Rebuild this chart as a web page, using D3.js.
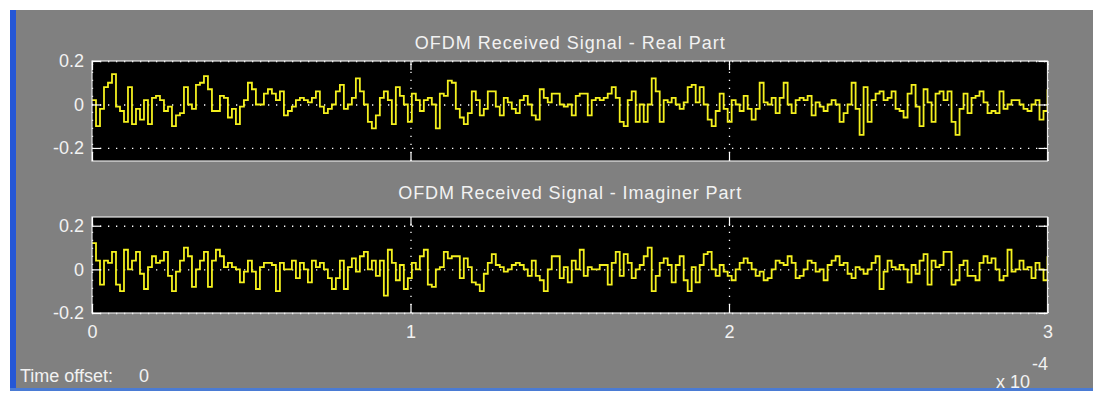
<!DOCTYPE html>
<html>
<head>
<meta charset="utf-8">
<script src="https://cdn.jsdelivr.net/npm/d3@7"></script>
<style>
  html, body { margin: 0; padding: 0; background: #ffffff; }
  svg { display: block; }
  text { font-family: "Liberation Sans", Arial, sans-serif; }
</style>
</head>
<body>
<svg id="scope" width="1093" height="394"></svg>
<script>
// Received OFDM baseband samples (real and imaginary parts), 0 .. 3e-4 s
const realPart = [
  0.02,-0.10,-0.02,0.08,0.10,0.14,-0.01,-0.03,-0.08,0.08,
  -0.09,-0.02,-0.07,0.02,-0.09,0.03,0.04,0.02,-0.03,-0.01,
  -0.10,-0.05,-0.04,0.08,0.00,-0.02,0.09,0.10,0.13,0.07,
  -0.03,-0.03,0.04,0.03,-0.06,-0.02,-0.09,-0.01,0.02,0.10,
  0.07,0.00,0.00,0.05,0.07,0.05,0.02,0.06,-0.05,-0.03,
  -0.01,0.02,0.03,0.02,0.01,0.03,0.06,-0.01,-0.04,-0.02,
  0.00,0.06,0.09,-0.02,0.00,0.03,0.12,0.06,0.00,-0.08,
  -0.11,-0.05,0.03,0.06,0.02,-0.09,0.08,0.04,0.00,-0.08,
  0.05,0.02,-0.03,0.02,0.03,0.00,-0.11,0.05,0.04,0.11,
  0.10,-0.02,-0.06,-0.09,-0.04,0.06,0.02,-0.05,-0.02,0.06,
  0.06,-0.01,-0.05,0.03,0.01,-0.02,-0.04,0.02,0.04,0.00,
  -0.05,-0.07,0.07,0.03,0.01,0.05,0.05,0.00,-0.01,0.00,
  -0.05,0.04,0.05,0.05,-0.05,0.02,0.03,0.02,0.03,0.05,
  0.08,0.03,-0.08,-0.10,0.02,0.06,-0.08,0.00,-0.08,0.00,
  0.12,0.06,-0.08,0.02,0.01,0.03,0.00,-0.02,0.01,0.08,
  0.09,0.01,0.08,0.00,-0.07,-0.10,-0.03,0.05,-0.02,-0.08,
  0.02,0.00,-0.03,0.04,-0.02,-0.07,-0.02,0.10,0.01,0.00,
  0.03,-0.04,0.03,0.10,0.00,-0.04,0.02,0.03,0.02,0.04,
  -0.05,0.01,-0.01,-0.03,0.00,0.02,0.00,-0.08,-0.04,0.00,
  0.10,-0.02,-0.14,0.08,-0.08,0.02,0.05,0.06,0.02,0.03,
  0.06,-0.02,-0.03,-0.06,0.05,0.09,-0.01,-0.10,0.07,0.01,
  -0.08,0.05,0.06,0.02,0.06,-0.08,-0.14,-0.02,0.05,-0.04,
  0.03,0.04,0.06,0.01,-0.04,-0.03,-0.04,0.06,-0.02,0.00,
  0.02,0.02,0.00,-0.02,-0.03,0.00,0.02,-0.07,-0.03,0.07
];

const imagPart = [
  0.12,0.04,-0.07,0.04,0.03,0.08,-0.07,-0.10,0.09,0.00,
  0.04,0.08,-0.02,-0.09,0.01,0.06,0.03,0.04,0.08,-0.03,
  -0.10,-0.01,0.04,0.10,0.06,-0.08,0.00,0.04,0.08,-0.08,
  0.04,0.09,0.06,0.01,0.03,0.01,0.00,-0.06,-0.01,0.04,
  -0.01,-0.09,0.01,0.03,0.03,0.02,-0.10,0.03,0.00,0.00,
  0.04,-0.04,0.03,0.00,-0.06,0.04,0.01,0.03,0.00,-0.04,
  -0.09,-0.04,0.04,-0.09,0.01,0.05,-0.01,0.06,0.08,0.00,
  0.04,-0.03,0.04,-0.12,0.09,0.03,-0.05,0.02,-0.09,-0.04,
  0.03,0.00,0.06,0.09,-0.07,-0.08,0.00,0.01,0.08,0.05,
  0.06,0.06,-0.04,0.05,0.01,-0.06,-0.07,-0.10,-0.02,0.03,
  0.07,0.02,0.01,-0.01,0.00,0.02,0.03,0.02,0.00,-0.03,
  0.04,-0.03,-0.05,-0.10,0.00,0.06,0.06,-0.04,0.01,-0.06,
  0.04,0.00,0.09,-0.03,0.01,0.00,0.00,0.02,0.02,-0.07,
  0.03,0.08,-0.03,0.07,0.03,-0.04,0.00,0.02,0.06,0.10,
  -0.10,-0.03,0.03,0.05,0.02,-0.06,0.02,0.06,-0.05,-0.10,
  0.01,-0.06,0.02,0.07,0.08,0.00,-0.03,0.02,-0.01,-0.03,
  -0.05,0.00,0.03,0.05,0.03,0.00,-0.03,-0.01,-0.05,-0.04,
  0.00,0.04,0.03,0.02,0.06,0.03,-0.04,-0.03,0.00,0.04,
  0.03,-0.01,0.00,-0.05,0.02,0.04,0.06,0.02,0.03,-0.02,
  -0.04,0.01,0.00,-0.02,0.00,0.03,0.06,-0.09,-0.01,0.04,
  0.01,0.00,0.02,0.00,-0.06,0.02,-0.02,0.04,0.07,-0.07,
  0.04,0.01,0.02,0.08,0.08,-0.07,-0.05,0.02,0.04,-0.03,
  -0.03,-0.05,0.03,0.06,0.03,0.05,0.00,-0.05,-0.03,0.09,
  -0.01,0.00,0.04,0.00,0.01,-0.04,0.03,0.00,-0.05,0.06
];

const timeSpan = [0, 3e-4];
const timeTicks = [0, 1e-4, 2e-4, 3e-4];
const timeTickLabels = ["0", "1", "2", "3"];
const ampTicks = [-0.2, 0, 0.2];
const ampTickLabels = ["-0.2", "0", "0.2"];
const panelTitles = ["OFDM Received Signal - Real Part", "OFDM Received Signal - Imaginer Part"];
const timeExponent = "-4";
const timeMultiplier = "x 10";
const timeOffsetLabel = "Time offset:";
const timeOffsetValue = "0";

const svg = d3.select("#scope");
const W = 1093, H = 394;
const textColor = "#f2f2f2";

// window frame
svg.append("rect").attr("width", W).attr("height", H).attr("fill", "#ffffff");
svg.append("rect").attr("x", 16).attr("y", 10).attr("width", W - 16).attr("height", 378).attr("fill", "#808080");
svg.append("rect").attr("x", 10).attr("y", 10).attr("width", 6).attr("height", 381).attr("fill", "#2457d6");
svg.append("rect").attr("x", 10).attr("y", 388).attr("width", W - 10).attr("height", 3).attr("fill", "#4a7bd4");

const plotLeft = 92, plotRight = 1047.5;
const x = d3.scaleLinear().domain(timeSpan).range([plotLeft, plotRight]);

const panels = [
  { data: realPart, top: 61, bottom: 161, domain: [-0.26, 0.2], title: panelTitles[0], titleY: 49, titleLen: 310, xLabels: false },
  { data: imagPart, top: 217, bottom: 313, domain: [-0.2, 0.24], title: panelTitles[1], titleY: 199, titleLen: 343, xLabels: true }
];

const defs = svg.append("defs");

panels.forEach((p, pi) => {
  const y = d3.scaleLinear().domain(p.domain).range([p.bottom, p.top]);
  const n = p.data.length;
  const tOf = i => timeSpan[0] + (timeSpan[1] - timeSpan[0]) * i / (n - 1);
  const g = svg.append("g");

  // title
  g.append("text")
    .attr("x", (plotLeft + plotRight) / 2)
    .attr("y", p.titleY)
    .attr("text-anchor", "middle")
    .attr("font-size", 18)
    .attr("textLength", p.titleLen)
    .attr("lengthAdjust", "spacing")
    .attr("fill", textColor)
    .text(p.title);

  // plotting area
  g.append("rect")
    .attr("x", plotLeft).attr("y", p.top)
    .attr("width", plotRight - plotLeft).attr("height", p.bottom - p.top)
    .attr("fill", "#000000");

  // dotted grid
  const gridH = g.append("g")
    .attr("transform", `translate(${plotLeft},0)`)
    .call(d3.axisLeft(y).tickValues(ampTicks).tickSize(-(plotRight - plotLeft)).tickFormat(""));
  const gridV = g.append("g")
    .attr("transform", `translate(0,${p.bottom})`)
    .call(d3.axisBottom(x).tickValues(timeTicks).tickSize(-(p.bottom - p.top)).tickFormat(""));
  [gridH, gridV].forEach(gg => {
    gg.select(".domain").remove();
    gg.selectAll("line")
      .attr("stroke", "#ffffff")
      .attr("stroke-width", 1.3)
      .attr("stroke-dasharray", "1.3,6.7");
  });

  // signal trace
  const clipId = "clip" + pi;
  defs.append("clipPath").attr("id", clipId)
    .append("rect")
    .attr("x", plotLeft).attr("y", p.top)
    .attr("width", plotRight - plotLeft).attr("height", p.bottom - p.top);

  const line = d3.line()
    .x((d, i) => x(tOf(i)))
    .y(d => y(d))
    .curve(d3.curveStepAfter);

  g.append("path")
    .datum(p.data)
    .attr("clip-path", `url(#${clipId})`)
    .attr("fill", "none")
    .attr("stroke", "#f4f01e")
    .attr("stroke-width", 1.8)
    .attr("stroke-linejoin", "miter")
    .attr("d", line);

  // frame
  g.append("rect")
    .attr("x", plotLeft).attr("y", p.top)
    .attr("width", plotRight - plotLeft).attr("height", p.bottom - p.top)
    .attr("fill", "none")
    .attr("stroke", "#e6e6e6")
    .attr("stroke-width", 1.2);

  // inward ticks with labels on left and (for the lower panel) bottom
  const styleAxis = sel => {
    sel.attr("color", textColor);
    sel.select(".domain").remove();
    sel.selectAll("line").attr("stroke", "#ffffff").attr("stroke-width", 1.2);
    sel.selectAll("text")
      .attr("font-size", 18)
      .attr("font-family", "'Liberation Sans', Arial, sans-serif")
      .attr("fill", textColor);
  };

  g.append("g").attr("transform", `translate(${plotLeft},0)`)
    .call(d3.axisLeft(y).tickValues(ampTicks).tickSize(-9).tickPadding(8)
      .tickFormat((d, i) => ampTickLabels[i]))
    .call(styleAxis);

  g.append("g").attr("transform", `translate(${plotRight},0)`)
    .call(d3.axisRight(y).tickValues(ampTicks).tickSize(-9).tickFormat(""))
    .call(styleAxis);

  g.append("g").attr("transform", `translate(0,${p.top})`)
    .call(d3.axisTop(x).tickValues(timeTicks).tickSize(-9).tickFormat(""))
    .call(styleAxis);

  g.append("g").attr("transform", `translate(0,${p.bottom})`)
    .call(d3.axisBottom(x).tickValues(timeTicks).tickSize(-9).tickPadding(12)
      .tickFormat((d, i) => p.xLabels ? timeTickLabels[i] : ""))
    .call(styleAxis);
});

// axis exponent
svg.append("text")
  .attr("x", 1032).attr("y", 370)
  .attr("font-size", 18).attr("fill", textColor)
  .text(timeExponent);
svg.append("text")
  .attr("x", 996).attr("y", 388)
  .attr("font-size", 18).attr("fill", textColor)
  .text(timeMultiplier);

// time offset readout
svg.append("text")
  .attr("x", 20).attr("y", 382)
  .attr("font-size", 18).attr("fill", textColor)
  .text(timeOffsetLabel);
svg.append("text")
  .attr("x", 139).attr("y", 382)
  .attr("font-size", 18).attr("fill", textColor)
  .text(timeOffsetValue);
</script>
</body>
</html>
